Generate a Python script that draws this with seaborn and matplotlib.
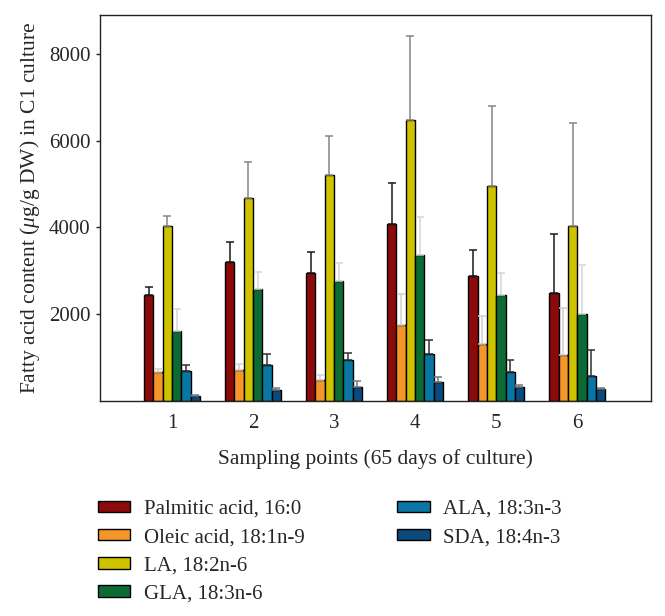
import numpy as np
import pandas as pd
import matplotlib
matplotlib.use("Agg")
import matplotlib.pyplot as plt
import seaborn as sns

# =========================
# DATA
# =========================

points = ["1", "2", "3", "4", "5", "6"]

acids = [
    "Palmitic acid, 16:0",
    "Oleic acid, 18:1n-9",
    "LA, 18:2n-6",
    "GLA, 18:3n-6",
    "ALA, 18:3n-3",
    "SDA, 18:4n-3",
]

palmitic = [2435, 3197, 2961, 4082, 2876, 2494]
oleic = [673, 719, 474, 1748, 1320, 1069]
la = [4037, 4677, 5211, 6485, 4952, 4037]
gla = [1618, 2572, 2769, 3357, 2449, 2007]
ala = [696, 840, 938, 1092, 664, 581]
sda = [108, 245, 320, 435, 329, 284]

# upper end of each error bar
palmitic_top = [2632, 3670, 3432, 5027, 3471, 3854]
oleic_top = [732, 856, 595, 2465, 1968, 2137]
la_top = [4272, 5515, 6110, 8414, 6790, 6416]
gla_top = [2121, 2984, 3174, 4249, 2952, 3128]
ala_top = [824, 1085, 1108, 1405, 938, 1176]
sda_top = [146, 297, 467, 542, 366, 307]

values = [palmitic, oleic, la, gla, ala, sda]
tops = [palmitic_top, oleic_top, la_top, gla_top, ala_top, sda_top]

bar_colors = ["#8B0A0A", "#F5962A", "#CFC300", "#0C6B35", "#0A76A3", "#0B4A7D"]
err_colors = ["#1a1a1a", "#d0d0d0", "#858585", "#d6d6d6", "#303030", "#777777"]

# long-form table for seaborn
rows = []
for acid, vals, tp in zip(acids, values, tops):
    for p, v, t in zip(points, vals, tp):
        rows.append({"point": p, "acid": acid, "value": v, "top": t})
df = pd.DataFrame(rows)

# =========================
# PLOT
# =========================

sns.set_style("ticks")
plt.rcParams["font.family"] = ["Liberation Serif", "DejaVu Serif"]
plt.rcParams["mathtext.fontset"] = "custom"
plt.rcParams["mathtext.it"] = "Liberation Serif:italic"
plt.rcParams["mathtext.rm"] = "Liberation Serif"

fig = plt.figure(figsize=(6.65, 6.16), dpi=100)
ax = fig.add_axes([0.150, 0.349, 0.829, 0.627])

sns.barplot(
    data=df,
    x="point",
    y="value",
    hue="acid",
    hue_order=acids,
    palette=bar_colors,
    errorbar=None,
    width=0.69,
    edgecolor="black",
    linewidth=1.0,
    saturation=1,
    ax=ax,
)

# one-sided error bars drawn on top of each bar
for cont, tp, ec in zip(ax.containers, tops, err_colors):
    xs = [b.get_x() + b.get_width() / 2 for b in cont]
    hs = [b.get_height() for b in cont]
    up = np.array(tp) - np.array(hs)
    ax.errorbar(
        xs, hs,
        yerr=[np.zeros(len(up)), up],
        fmt="none",
        ecolor=ec,
        elinewidth=1.1,
        capsize=3,
        capthick=1.1,
        zorder=1,
    )

ax.set_xlim(-0.89, 5.91)
ax.set_ylim(0, 8900)
ax.set_yticks([2000, 4000, 6000, 8000])

ax.set_xlabel("Sampling points (65 days of culture)", fontsize=15.5, labelpad=12)
ax.set_ylabel(r"Fatty acid content ($\mu$g/g DW) in C1 culture", fontsize=15.5, labelpad=5)

ax.tick_params(axis="y", labelsize=15, length=3, width=1, direction="out")
ax.tick_params(axis="x", labelsize=15, length=0, pad=9)

for s in ax.spines.values():
    s.set_visible(True)
    s.set_linewidth(1.0)
    s.set_color("#222222")

# legend in two columns: 4 + 2
handles, labels = ax.get_legend_handles_labels()
ax.get_legend().remove()

leg_kw = dict(
    frameon=False,
    fontsize=15,
    handlelength=1.55,
    handleheight=0.48,
    handletextpad=0.65,
    labelspacing=0.44,
    borderaxespad=0,
)
leg1 = fig.legend(handles[:4], labels[:4], loc="upper left",
                  bbox_to_anchor=(0.135, 0.202), **leg_kw)
leg2 = fig.legend(handles[4:], labels[4:], loc="upper left",
                  bbox_to_anchor=(0.585, 0.202), **leg_kw)

plt.savefig("out.png", dpi=100)
plt.close()
